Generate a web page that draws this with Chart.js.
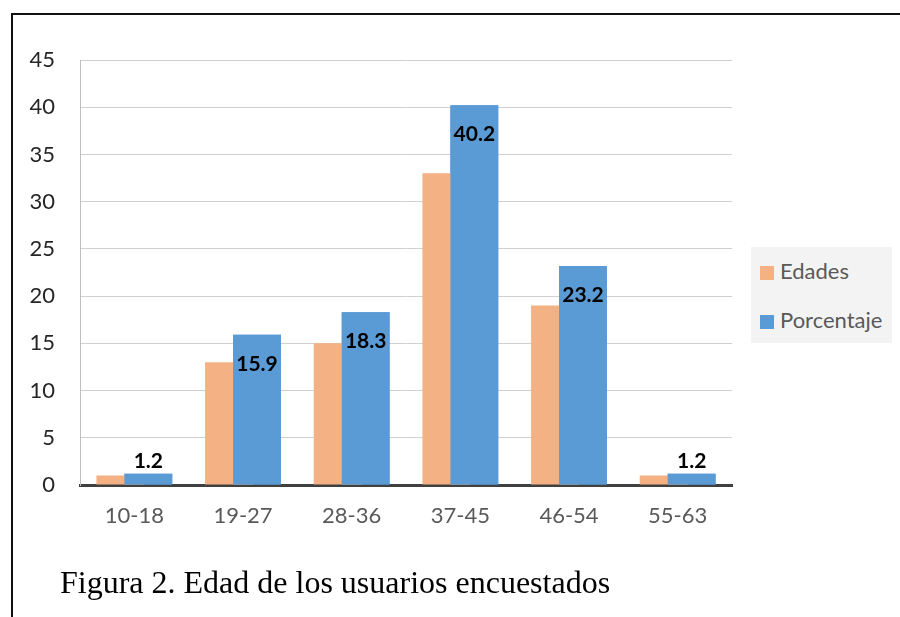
<!DOCTYPE html>
<html>
<head>
<meta charset="utf-8">
<script src="https://cdn.jsdelivr.net/npm/chart.js@4.4.1/dist/chart.umd.min.js"></script>
<style>
  html, body { margin: 0; padding: 0; background: #fff; }
  #wrap { position: relative; width: 900px; height: 617px; overflow: hidden; }
  #frame { position: absolute; left: 11px; top: 13px; width: 1000px; height: 700px;
           border-top: 2px solid #111; border-left: 2px solid #111; }
  #chart { position: absolute; left: 0; top: 0; }
  #legend { position: absolute; left: 751px; top: 247px; width: 141px; height: 96px;
            background: #f3f3f3; font-family: Lato, sans-serif; font-size: 22px; color: #595959; }
  .item { position: absolute; left: 9px; height: 24px; line-height: 24px; white-space: nowrap; }
  .sw { display: inline-block; width: 14px; height: 14px; vertical-align: -1px; margin-right: 6px; }
  #caption { position: absolute; left: 60px; top: 566px; font-family: "Liberation Serif", "Times New Roman", serif;
             font-size: 32px; line-height: 1; color: #000; white-space: nowrap; }
</style>
</head>
<body>
<div id="wrap">
  <div id="frame"></div>
  <canvas id="chart" width="900" height="617"></canvas>
  <div id="legend"></div>
  <div id="caption">Figura 2. Edad de los usuarios encuestados</div>
</div>
<script>
// Age groups of the surveyed users
const categories = ['10-18', '19-27', '28-36', '37-45', '46-54', '55-63'];
// Number of people per age group
const edades = [1, 13, 15, 33, 19, 1];
// Share of the total, in percent
const porcentaje = [1.2, 15.9, 18.3, 40.2, 23.2, 1.2];
// Value axis range and step
const yMin = 0;
const yMax = 45;
const yStep = 5;

const seriesNames = ['Edades', 'Porcentaje'];
const seriesColors = ['#F4B183', '#5B9BD5'];

// The two series overlap; repaint the percentage bars so they sit in front,
// then add bold value labels (inside near the top, or above short bars)
const valueLabels = {
  id: 'valueLabels',
  afterDatasetsDraw(chart) {
    const ctx = chart.ctx;
    const ds = chart.data.datasets[1];
    const meta = chart.getDatasetMeta(1);
    meta.controller.draw();
    ctx.save();
    ctx.font = 'bold 21px Lato, sans-serif';
    ctx.fillStyle = '#000';
    ctx.textAlign = 'center';
    ctx.textBaseline = 'middle';
    meta.data.forEach((bar, i) => {
      const h = bar.base - bar.y;
      const y = h > 40 ? bar.y + 29 : bar.y - 12;
      ctx.fillText(Number(ds.data[i]).toFixed(1), bar.x, y);
    });
    ctx.restore();
  }
};

function buildLegend() {
  const box = document.getElementById('legend');
  const tops = [12, 61];
  seriesNames.forEach((name, i) => {
    const row = document.createElement('div');
    row.className = 'item';
    row.style.top = tops[i] + 'px';
    const sw = document.createElement('span');
    sw.className = 'sw';
    sw.style.background = seriesColors[i];
    row.appendChild(sw);
    row.appendChild(document.createTextNode(name));
    box.appendChild(row);
  });
}

function draw() {
  buildLegend();
  new Chart(document.getElementById('chart'), {
    type: 'bar',
    data: {
      labels: categories,
      datasets: [
        { label: seriesNames[0], data: edades, backgroundColor: seriesColors[0] },
        { label: seriesNames[1], data: porcentaje, backgroundColor: seriesColors[1] }
      ]
    },
    options: {
      responsive: false,
      animation: false,
      devicePixelRatio: 1,
      categoryPercentage: 0.515,
      barPercentage: 1.71,
      layout: { padding: { left: 0, right: 168, top: 60, bottom: 0 } },
      plugins: { legend: { display: false }, tooltip: { enabled: false } },
      scales: {
        x: {
          z: 1,
          grid: { display: false, drawTicks: false },
          border: { color: '#404040', width: 3 },
          ticks: { font: { family: 'Lato', size: 22 }, color: '#595959', padding: 18, maxRotation: 0 },
          afterFit(scale) { scale.height = 132; }
        },
        y: {
          min: yMin,
          max: yMax,
          grid: { color: '#d0d0d0', lineWidth: 1, drawTicks: false },
          border: { color: '#bfbfbf', width: 1 },
          ticks: { stepSize: yStep, font: { family: 'Lato', size: 22 }, color: '#262626', padding: 25 },
          afterFit(scale) { scale.width = 80; }
        }
      }
    },
    plugins: [valueLabels]
  });
}

Promise.all([
  document.fonts.load('22px Lato'),
  document.fonts.load('bold 21px Lato')
]).then(draw, draw);
</script>
</body>
</html>
